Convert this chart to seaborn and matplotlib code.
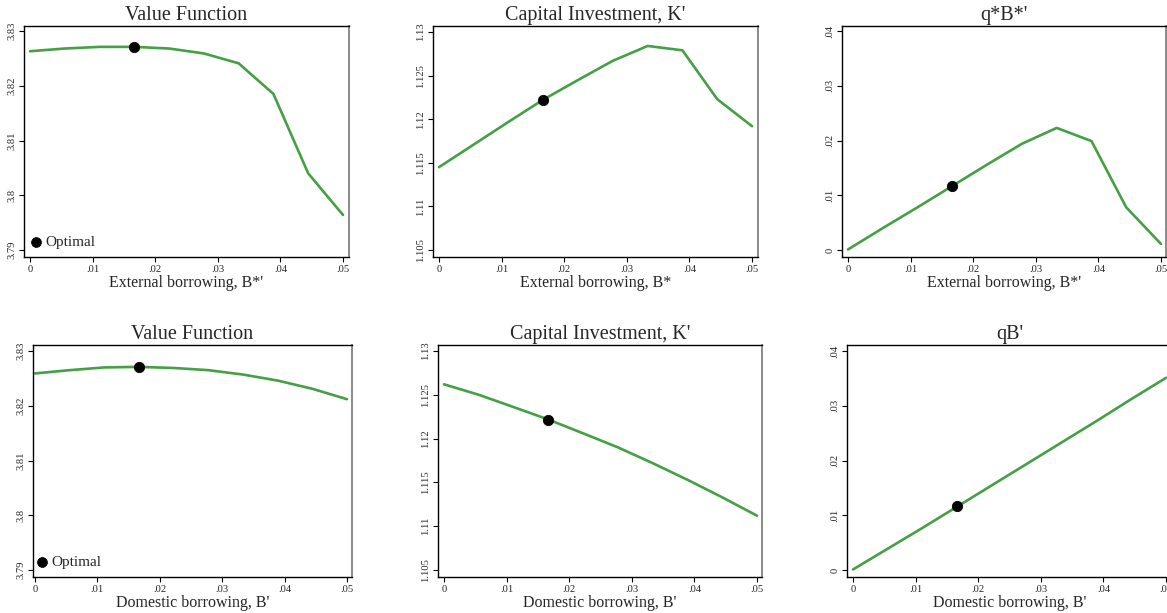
import numpy as np
import pandas as pd
import matplotlib
matplotlib.use("Agg")
import matplotlib.pyplot as plt
from matplotlib.ticker import FuncFormatter, MultipleLocator
import seaborn as sns

# Borrowing grid and the chosen (optimal) borrowing level
b_grid = [0.0, 0.00556, 0.01111, 0.01667, 0.02222, 0.02778, 0.03333, 0.03889, 0.04444, 0.05]
b_opt = 0.01667

# External borrowing experiments
value_ext = [3.8263, 3.8268, 3.8271, 3.8271, 3.8268, 3.8259, 3.8241, 3.8185, 3.8040, 3.7964]
capital_ext = [1.1145, 1.1171, 1.1197, 1.12225, 1.1245, 1.1267, 1.1284, 1.1279, 1.1223, 1.1192]
qb_ext = [0.0001, 0.0040, 0.0078, 0.0117, 0.0156, 0.0194, 0.0223, 0.0199, 0.0078, 0.0011]

# Domestic borrowing experiments
value_dom = [3.8259, 3.8265, 3.8270, 3.8271, 3.8269, 3.8265, 3.8257, 3.8246, 3.8231, 3.8212]
capital_dom = [1.1262, 1.1250, 1.1236, 1.12218, 1.1206, 1.1190, 1.1172, 1.1153, 1.1133, 1.1112]
qb_dom = [0.0001, 0.0039, 0.0077, 0.0116, 0.0155, 0.0194, 0.0233, 0.0272, 0.0312, 0.0351]

# Optimal points
opt_ext = [3.8271, 1.12225, 0.0117]
opt_dom = [3.8271, 1.12218, 0.0116]

y_ranges = [(3.79, 3.83, 0.01), (1.105, 1.13, 0.005), (0.0, 0.04, 0.01)]

titles_top = ["Value Function", "Capital Investment, K'", "q*B*'"]
titles_bot = ["Value Function", "Capital Investment, K'", "qB'"]
xlabels_top = ["External borrowing, B*'", "External borrowing, B*",
               "External borrowing, B*'"]
xlabel_bot = "Domestic borrowing, B'"

sns.set_style("ticks")
plt.rcParams["font.family"] = ["Liberation Serif", "DejaVu Serif"]

W, H = 1167, 613
fig = plt.figure(figsize=(W / 100, H / 100), dpi=100)
GREEN = "#45a045"

# pixel geometry of each panel: x of 0 and .05, y of top/bottom tick, box edges
panels = [
    dict(x0=30, x1=343, left=24, right=349, yt=31, yb=250, top=26, bottom=257),
    dict(x0=439, x1=752, left=433, right=758, yt=32, yb=250, top=26, bottom=257),
    dict(x0=848, x1=1161, left=842, right=1166, yt=31, yb=250, top=26, bottom=257),
    dict(x0=35, x1=347, left=33, right=352, yt=351, yb=570, top=345, bottom=577),
    dict(x0=444, x1=757, left=438, right=762, yt=351, yb=570, top=345, bottom=577),
    dict(x0=853, x1=1166, left=847, right=1172, yt=351, yb=570, top=345, bottom=577),
]
legend_anchor = {0: (-0.003, 0.012), 3: (-0.013, 0.012)}


def stata_fmt(v, pos):
    s = f"{v:.4g}"
    if s.startswith("0."):
        s = s[1:]
    elif s.startswith("-0."):
        s = "-" + s[2:]
    return s


series = [value_ext, capital_ext, qb_ext, value_dom, capital_dom, qb_dom]
opts = opt_ext + opt_dom

for i, p in enumerate(panels):
    col = i % 3
    lo, hi, step = y_ranges[col]
    ax = fig.add_axes([p["left"] / W, 1 - p["bottom"] / H,
                       (p["right"] - p["left"]) / W, (p["bottom"] - p["top"]) / H])
    xs = 0.05 / (p["x1"] - p["x0"])
    ax.set_xlim(-(p["x0"] - p["left"]) * xs, 0.05 + (p["right"] - p["x1"]) * xs)
    ys = (hi - lo) / (p["yb"] - p["yt"])
    ax.set_ylim(lo - (p["bottom"] - p["yb"]) * ys, hi + (p["yt"] - p["top"]) * ys)

    df = pd.DataFrame({"b": b_grid, "v": series[i]})
    sns.lineplot(data=df, x="b", y="v", ax=ax, color=GREEN, linewidth=1.9)
    sns.scatterplot(x=[b_opt], y=[opts[i]], ax=ax, color="black", s=55,
                    edgecolor="black", zorder=5,
                    label="Optimal" if col == 0 else None)
    if col == 0:
        ax.legend(loc="lower left", bbox_to_anchor=legend_anchor[i], frameon=False,
                  fontsize=11, handletextpad=0.1, borderaxespad=0.0,
                  borderpad=0.35, markerscale=0.95, handlelength=1.0)
    elif ax.get_legend() is not None:
        ax.get_legend().remove()

    ax.xaxis.set_major_locator(MultipleLocator(0.01))
    ax.yaxis.set_major_locator(MultipleLocator(step))
    ax.xaxis.set_major_formatter(FuncFormatter(stata_fmt))
    ax.yaxis.set_major_formatter(FuncFormatter(stata_fmt))
    ax.tick_params(axis="both", direction="out", length=3.5, width=0.8,
                   labelsize=7.6, pad=2, color="black")
    for lbl in ax.get_yticklabels():
        lbl.set_rotation(90)
        lbl.set_va("center")

    for side in ["left", "bottom", "top"]:
        ax.spines[side].set_color("black")
        ax.spines[side].set_linewidth(1.0)
    ax.spines["right"].set_color("#8a8a8a")
    ax.spines["right"].set_linewidth(1.4)

    title = (titles_top if i < 3 else titles_bot)[col]
    ax.set_title(title, fontsize=14.5, pad=4.5)
    ax.set_xlabel(xlabels_top[col] if i < 3 else xlabel_bot, fontsize=11.5, labelpad=1)
    ax.set_ylabel("")

fig.savefig("out.png", dpi=100, facecolor="white")
